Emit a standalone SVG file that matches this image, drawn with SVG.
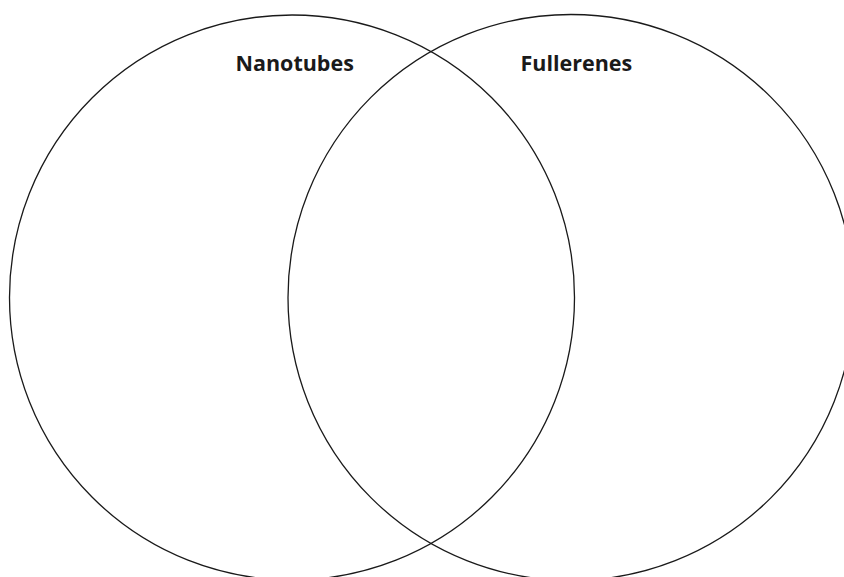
<svg xmlns="http://www.w3.org/2000/svg" width="844" height="577" viewBox="0 0 844 577">
<style>
.c{fill:none;stroke:#1a1a1a;stroke-width:1.3}
.t{font-family:"Open Sans","Liberation Sans",sans-serif;font-weight:bold;font-size:21.5px;fill:#1a1a1a}
</style>
<rect width="844" height="577" fill="#fff"/>
<g id="nanotubes">
<circle class="c" cx="292" cy="297.5" r="282.5"/>
<text class="t" x="235.5" y="71">Nanotubes</text>
</g>
<g id="fullerenes">
<circle class="c" cx="571" cy="297.5" r="283"/>
<text class="t" x="520.5" y="71">Fullerenes</text>
</g>
</svg>
